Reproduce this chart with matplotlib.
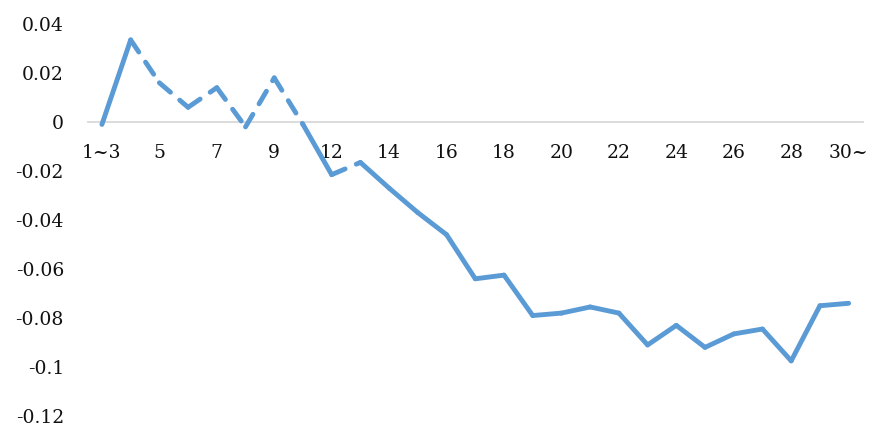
import numpy as np
import matplotlib.pyplot as plt

# categories (every other one is labelled on the axis)
categories = ['1~3', '4', '5', '6', '7', '8', '9', '10~11', '12', '13', '14', '15',
              '16', '17', '18', '19', '20', '21', '22', '23', '24', '25', '26', '27',
              '28', '29', '30~']
values = [-0.001, 0.0335, 0.016, 0.006, 0.014, -0.002, 0.018, -0.001, -0.0215, -0.0165,
          -0.027, -0.037, -0.046, -0.064, -0.0625, -0.079, -0.078, -0.0755, -0.078,
          -0.091, -0.083, -0.092, -0.0865, -0.0845, -0.0975, -0.075, -0.074]
# points whose incoming segment is drawn dashed
dashed_points = [2, 3, 4, 5, 6, 7, 9]
yticks = [0.04, 0.02, 0, -0.02, -0.04, -0.06, -0.08, -0.1, -0.12]
ytick_labels = ['0.04', '0.02', '0', '-0.02', '-0.04', '-0.06', '-0.08', '-0.1', '-0.12']

plt.rcParams['font.family'] = ['DejaVu Serif']
color = '#5b9bd5'

fig = plt.figure(figsize=(8.74, 4.29), dpi=100)
ax = fig.add_axes([0.1002, 0.0303, 0.8872, 0.9138])

x = np.arange(len(categories))
for i in range(1, len(values)):
    ls = (0, (3.0, 2.5)) if i in dashed_points else '-'
    ax.plot(x[i-1:i+1], values[i-1:i+1], color=color, lw=3.5, ls=ls,
            solid_capstyle='round', dash_capstyle='round', solid_joinstyle='round')

ax.set_xlim(-0.5, len(categories) - 0.5)
ax.set_ylim(-0.12, 0.04)
ax.set_yticks(yticks)
ax.set_yticklabels(ytick_labels)
ax.set_xticks(x[::2])
ax.set_xticklabels(categories[::2])

for s in ['left', 'right', 'top']:
    ax.spines[s].set_visible(False)
ax.spines['bottom'].set_position(('data', 0))
ax.spines['bottom'].set_color('#d9d9d9')
ax.spines['bottom'].set_linewidth(1.3)
ax.spines['bottom'].set_zorder(0)
ax.tick_params(axis='y', length=0, pad=17, labelsize=13.5, labelcolor='#111111')
ax.tick_params(axis='x', length=0, pad=16, labelsize=13.5, labelcolor='#111111')

fig.savefig('out.png', dpi=100)
